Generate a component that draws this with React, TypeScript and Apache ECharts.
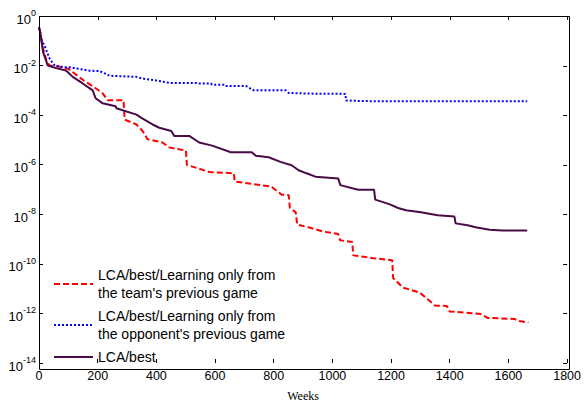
import React, { useEffect, useRef } from "react";
import * as echarts from "echarts";

const seriesNames = [
  "LCA/best/Learning only from the team's previous game",
  "LCA/best/Learning only from the opponent's previous game",
  "LCA/best",
];
const legendLabels = [
  "LCA/best/Learning only from\nthe team's previous game",
  "LCA/best/Learning only from\nthe opponent's previous game",
  "LCA/best",
];

const xTicks = [0, 200, 400, 600, 800, 1000, 1200, 1400, 1600, 1800];
const yTicks = [1e-14, 1e-12, 1e-10, 1e-8, 1e-6, 1e-4, 1e-2, 1];

const teamPrev: [number, number][] = [
  [0, 0.3], [3, 0.28], [14, 0.046], [27, 0.014], [37, 0.01], [81, 0.0087],
  [102, 0.0072], [136, 0.0035], [159, 0.0022], [186, 0.0014], [217, 0.00076],
  [234, 0.0004], [288, 0.0004], [292, 0.000066], [332, 0.000042], [353, 0.000023],
  [370, 0.0000107], [421, 0.0000079], [444, 0.000005], [501, 0.0000037],
  [504, 9.8e-7], [546, 6.9e-7], [580, 5.1e-7], [664, 4.5e-7], [667, 2.1e-7],
  [793, 1.3e-7], [800, 1.1e-7], [827, 6.2e-8], [851, 6e-8], [855, 1.8e-8],
  [875, 1.2e-8], [880, 3.8e-9], [919, 3.0e-9], [969, 2.0e-9], [1020, 1.6e-9],
  [1026, 8.9e-10], [1068, 7.6e-10], [1071, 2.2e-10], [1139, 1.7e-10],
  [1204, 1.4e-10], [1207, 2.7e-11], [1241, 1.1e-11], [1298, 6.9e-12],
  [1325, 3.7e-12], [1349, 2.1e-12], [1390, 2e-12], [1400, 1.2e-12],
  [1505, 9.5e-13], [1529, 6.6e-13], [1620, 6.0e-13], [1637, 4.9e-13],
  [1668, 4.3e-13],
];

const opponentPrev: [number, number][] = [
  [0, 0.35], [10, 0.1], [20, 0.059], [37, 0.018], [54, 0.01], [81, 0.0087],
  [105, 0.0085], [173, 0.0062], [207, 0.006], [240, 0.0039], [332, 0.0035],
  [353, 0.003], [400, 0.0025], [444, 0.002], [535, 0.002], [546, 0.0019],
  [586, 0.0019], [590, 0.0017], [630, 0.0017], [634, 0.0015], [705, 0.0015],
  [732, 0.001], [841, 0.001], [851, 0.00079], [919, 0.00074], [1044, 0.00072],
  [1047, 0.00039], [1100, 0.00037], [1200, 0.00036], [1664, 0.00036],
];

const best: [number, number][] = [
  [0, 0.35], [3, 0.25], [14, 0.035], [30, 0.01], [58, 0.0079], [92, 0.0063],
  [115, 0.0035], [149, 0.0019], [183, 0.001], [193, 0.00048], [217, 0.0003],
  [261, 0.00023], [264, 0.00019], [332, 0.000105], [349, 0.000078],
  [387, 0.000042], [410, 0.000031], [451, 0.000023], [461, 0.0000145],
  [512, 0.0000145], [546, 0.0000079], [590, 0.0000059], [654, 0.0000032],
  [725, 0.0000032], [739, 0.0000023], [783, 0.000002], [823, 0.0000013],
  [861, 9.5e-7], [885, 6e-7], [912, 4.5e-7], [942, 3.3e-7], [1020, 2.8e-7],
  [1027, 1.5e-7], [1088, 9.8e-8], [1142, 9.8e-8], [1146, 3.9e-8],
  [1196, 2.5e-8], [1224, 1.8e-8], [1251, 1.45e-8], [1302, 1.2e-8],
  [1359, 9.1e-9], [1416, 8.1e-9], [1420, 4.3e-9], [1461, 3.6e-9],
  [1488, 3e-9], [1536, 2.4e-9], [1580, 2.2e-9], [1664, 2.2e-9],
];

const SANS = "Liberation Sans, Arial, sans-serif";

export default function App() {
  const ref = useRef<HTMLDivElement>(null);
  useEffect(() => {
    if (!ref.current) return;
    const chart = echarts.init(ref.current, undefined, { renderer: "svg" });
    const tickLine = { color: "#000", width: 1 };
    chart.setOption({
      animation: false,
      backgroundColor: "#fff",
      grid: { left: 39, right: 14, top: 16, bottom: 37, containLabel: false },
      legend: {
        orient: "vertical",
        left: 53,
        top: 266,
        padding: 0,
        itemWidth: 39,
        itemHeight: 10,
        itemGap: 5,
        data: seriesNames,
        itemStyle: { opacity: 0, color: "rgba(0,0,0,0)", borderWidth: 0 },
        formatter: (name: string) => legendLabels[seriesNames.indexOf(name)],
        textStyle: { fontFamily: SANS, fontSize: 14, lineHeight: 18, color: "#000" },
      },
      xAxis: {
        type: "value",
        min: xTicks[0],
        max: xTicks[xTicks.length - 1],
        interval: 200,
        axisLine: { show: false },
        axisTick: { inside: true, length: 4, lineStyle: tickLine },
        splitLine: { show: false },
        axisLabel: {
          fontFamily: SANS,
          fontSize: 12.5,
          color: "#000",
          margin: 6,
          formatter: (v: number) => String(v),
        },
        name: "Weeks",
        nameLocation: "middle",
        nameGap: 27,
        nameTextStyle: { fontFamily: "Liberation Serif, Times New Roman, serif", fontSize: 12, color: "#000" },
      },
      yAxis: {
        type: "log",
        logBase: 10,
        min: yTicks[0],
        max: yTicks[yTicks.length - 1],
        axisLine: { show: false },
        axisTick: { inside: true, length: 4, lineStyle: tickLine, customValues: yTicks },
        splitLine: { show: false },
        minorTick: { show: false },
        axisLabel: {
          margin: 3,
          customValues: yTicks,
          formatter: (v: number) => `{b|10}{s|${Math.round(Math.log10(v))}}`,
          rich: {
            b: { fontFamily: SANS, fontSize: 13, color: "#000", padding: [6, 0, 0, 0] },
            s: { fontFamily: SANS, fontSize: 9, color: "#000", padding: [0, 0, 6, 0] },
          },
        },
      },
      series: [
        {
          name: seriesNames[0],
          type: "line",
          data: teamPrev,
          symbol: "none",
          lineStyle: { color: "#ff0000", width: 2, type: [6, 3] },
          itemStyle: { color: "#ff0000" },
        },
        {
          name: seriesNames[1],
          type: "line",
          data: opponentPrev,
          symbol: "none",
          lineStyle: { color: "#0000ff", width: 2, type: [2, 2] },
          itemStyle: { color: "#0000ff" },
        },
        {
          name: seriesNames[2],
          type: "line",
          data: best,
          symbol: "none",
          lineStyle: { color: "#4a0a48", width: 2 },
          itemStyle: { color: "#4a0a48" },
        },
      ],
      graphic: [
        {
          id: "frame",
          type: "rect",
          shape: { x: 39.5, y: 16.5, width: 530, height: 353 },
          style: { fill: "none", stroke: "#000", lineWidth: 1 },
          silent: true,
          z: 10,
        },
      ],
    });

    // inward ticks on the top and right edges, placed through the axes' own scales
    try {
      const toX = (v: number) => chart.convertToPixel({ xAxisIndex: 0 }, v) as number;
      const toY = (v: number) => chart.convertToPixel({ yAxisIndex: 0 }, v) as number;
      const yTop = toY(yTicks[yTicks.length - 1]);
      const xRight = toX(xTicks[xTicks.length - 1]);
      const stroke = { stroke: "#000", lineWidth: 1 };
      const elements: any[] = [];
      if (isFinite(yTop) && isFinite(xRight)) {
        xTicks.forEach((t, i) => {
          const x = Math.round(toX(t)) + 0.5;
          if (isFinite(x))
            elements.push({ id: "tt" + i, type: "line", shape: { x1: x, y1: yTop, x2: x, y2: yTop + 4 }, style: stroke, silent: true, z: 10 });
        });
        yTicks.forEach((t, i) => {
          const y = Math.round(toY(t)) + 0.5;
          if (isFinite(y))
            elements.push({ id: "rt" + i, type: "line", shape: { x1: xRight, y1: y, x2: xRight - 4, y2: y }, style: stroke, silent: true, z: 10 });
        });
      }
      if (elements.length) chart.setOption({ graphic: elements });
    } catch (e) {
      console.error(e);
    }
    return () => chart.dispose();
  }, []);
  return (
    <div
      ref={ref}
      style={{ position: "fixed", left: 0, top: 0, width: 584, height: 407 }}
    />
  );
}
